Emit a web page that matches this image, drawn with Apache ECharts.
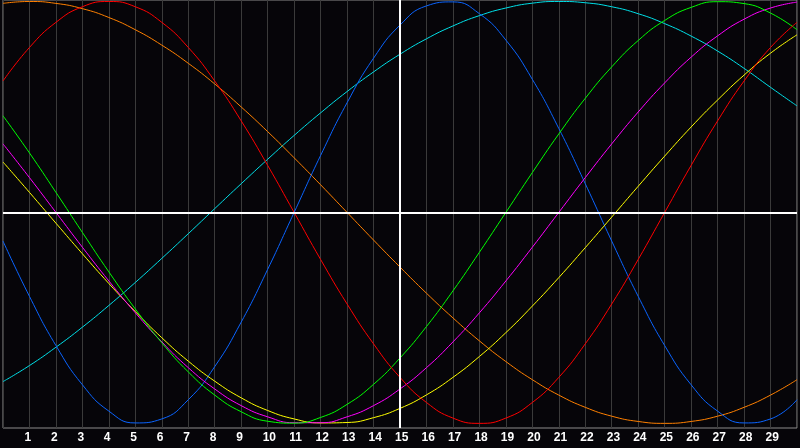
<!DOCTYPE html>
<html lang="en">
<head>
    <meta charset="utf-8">
    <title>Biorhythm</title>
    <script type="text/javascript" src="https://cdn.jsdelivr.net/npm/echarts@6/dist/echarts.min.js"></script>
    <style>
        html, body { margin: 0; padding: 0; background: #060509; }
        #chart { width: 800px; height: 448px; }
    </style>
</head>
<body>
<div id="chart"></div>
<script type="text/javascript">
    // days along the x axis (0 and 30 are the frame edges, no label)
    var days = ['0','1','2','3','4','5','6','7','8','9','10','11','12','13','14','15',
                '16','17','18','19','20','21','22','23','24','25','26','27','28','29','30'];

    // values, one per day, -1 .. 1
    var redLine     = [0.623,0.782,0.901,0.975,1,0.975,0.901,0.782,0.623,0.434,0.223,0,-0.223,-0.434,-0.623,-0.782,
                       -0.901,-0.975,-1,-0.975,-0.901,-0.782,-0.623,-0.434,-0.223,0,0.223,0.434,0.623,0.782,0.901];
    var orangeLine  = [0.991,1,0.991,0.966,0.924,0.866,0.793,0.707,0.609,0.5,0.383,0.259,0.131,0,-0.131,-0.259,
                       -0.383,-0.5,-0.609,-0.707,-0.793,-0.866,-0.924,-0.966,-0.991,-1,-0.991,-0.966,-0.924,-0.866,-0.793];
    var blueLine    = [-0.136,-0.398,-0.631,-0.817,-0.942,-0.998,-0.979,-0.888,-0.731,-0.520,-0.270,0,0.270,0.520,0.731,0.888,
                       0.979,0.998,0.942,0.817,0.631,0.398,0.136,-0.136,-0.398,-0.631,-0.817,-0.942,-0.998,-0.979,-0.888];
    var cyanLine    = [-0.802,-0.726,-0.639,-0.544,-0.441,-0.332,-0.218,-0.101,0.018,0.136,0.252,0.365,0.472,0.573,0.666,0.750,
                       0.823,0.884,0.933,0.969,0.992,1.000,0.994,0.975,0.942,0.895,0.836,0.765,0.683,0.593,0.505];
    var greenLine   = [0.458,0.282,0.095,-0.095,-0.282,-0.458,-0.618,-0.756,-0.866,-0.945,-0.990,-0.999,-0.972,-0.910,-0.815,-0.690,
                       -0.541,-0.372,-0.189,0,0.189,0.372,0.541,0.690,0.815,0.910,0.972,0.999,0.990,0.945,0.866];
    var magentaLine = [0.325,0.165,0,-0.165,-0.325,-0.476,-0.614,-0.736,-0.837,-0.916,-0.969,-0.997,-0.997,-0.969,-0.916,-0.837,
                       -0.736,-0.614,-0.476,-0.325,-0.165,0,0.165,0.325,0.476,0.614,0.736,0.837,0.916,0.969,0.997];
    var yellowLine  = [0.239,0.095,-0.051,-0.196,-0.337,-0.470,-0.594,-0.705,-0.800,-0.879,-0.939,-0.979,-0.998,-0.996,-0.973,-0.929,
                       -0.865,-0.782,-0.683,-0.570,-0.444,-0.309,-0.167,-0.022,0.124,0.267,0.405,0.533,0.651,0.755,0.842];

    var lines = [
        { data: cyanLine,    color: '#00e0e8' },
        { data: orangeLine,  color: '#ff8000' },
        { data: blueLine,    color: '#0a64ff' },
        { data: yellowLine,  color: '#ffff00' },
        { data: magentaLine, color: '#ff00ff' },
        { data: greenLine,   color: '#00ff00' },
        { data: redLine,     color: '#ff0000' }
    ];

    var chart = echarts.init(document.getElementById('chart'));

    var series = lines.map(function (l) {
        return {
            type: 'line',
            data: l.data,
            smooth: true,
            symbol: 'none',
            lineStyle: { color: l.color, width: 1 },
            z: 3
        };
    });
    // white centre cross
    series.push({
        type: 'line',
        data: [],
        z: 2,
        markLine: {
            silent: true,
            symbol: 'none',
            label: { show: false },
            lineStyle: { color: '#ffffff', width: 2, type: 'solid' },
            data: [{ xAxis: '15' }, { yAxis: 0 }]
        }
    });

    chart.setOption({
        animation: false,
        backgroundColor: '#060509',
        grid: {
            left: 0, right: 1, top: 0, bottom: 20,
            show: true,
            borderColor: '#8c8c8c',
            borderWidth: 1,
            backgroundColor: '#060509'
        },
        xAxis: {
            type: 'category',
            data: days,
            boundaryGap: false,
            axisLine: { show: false },
            axisTick: { show: false },
            splitLine: { show: true, lineStyle: { color: '#3a3a3a', width: 1 } },
            axisLabel: {
                color: '#ffffff',
                fontFamily: 'Liberation Sans',
                fontWeight: 'bold',
                fontSize: 12,
                margin: 4,
                interval: 0,
                align: 'left',
                padding: [0, 0, 0, -5],
                formatter: function (v) {
                    return (v === '0' || v === '30') ? '' : v;
                }
            }
        },
        yAxis: {
            type: 'value',
            min: -1.022,
            max: 1.007,
            axisLine: { show: false },
            axisTick: { show: false },
            axisLabel: { show: false },
            splitLine: { show: false }
        },
        series: series
    });
</script>
</body>
</html>
